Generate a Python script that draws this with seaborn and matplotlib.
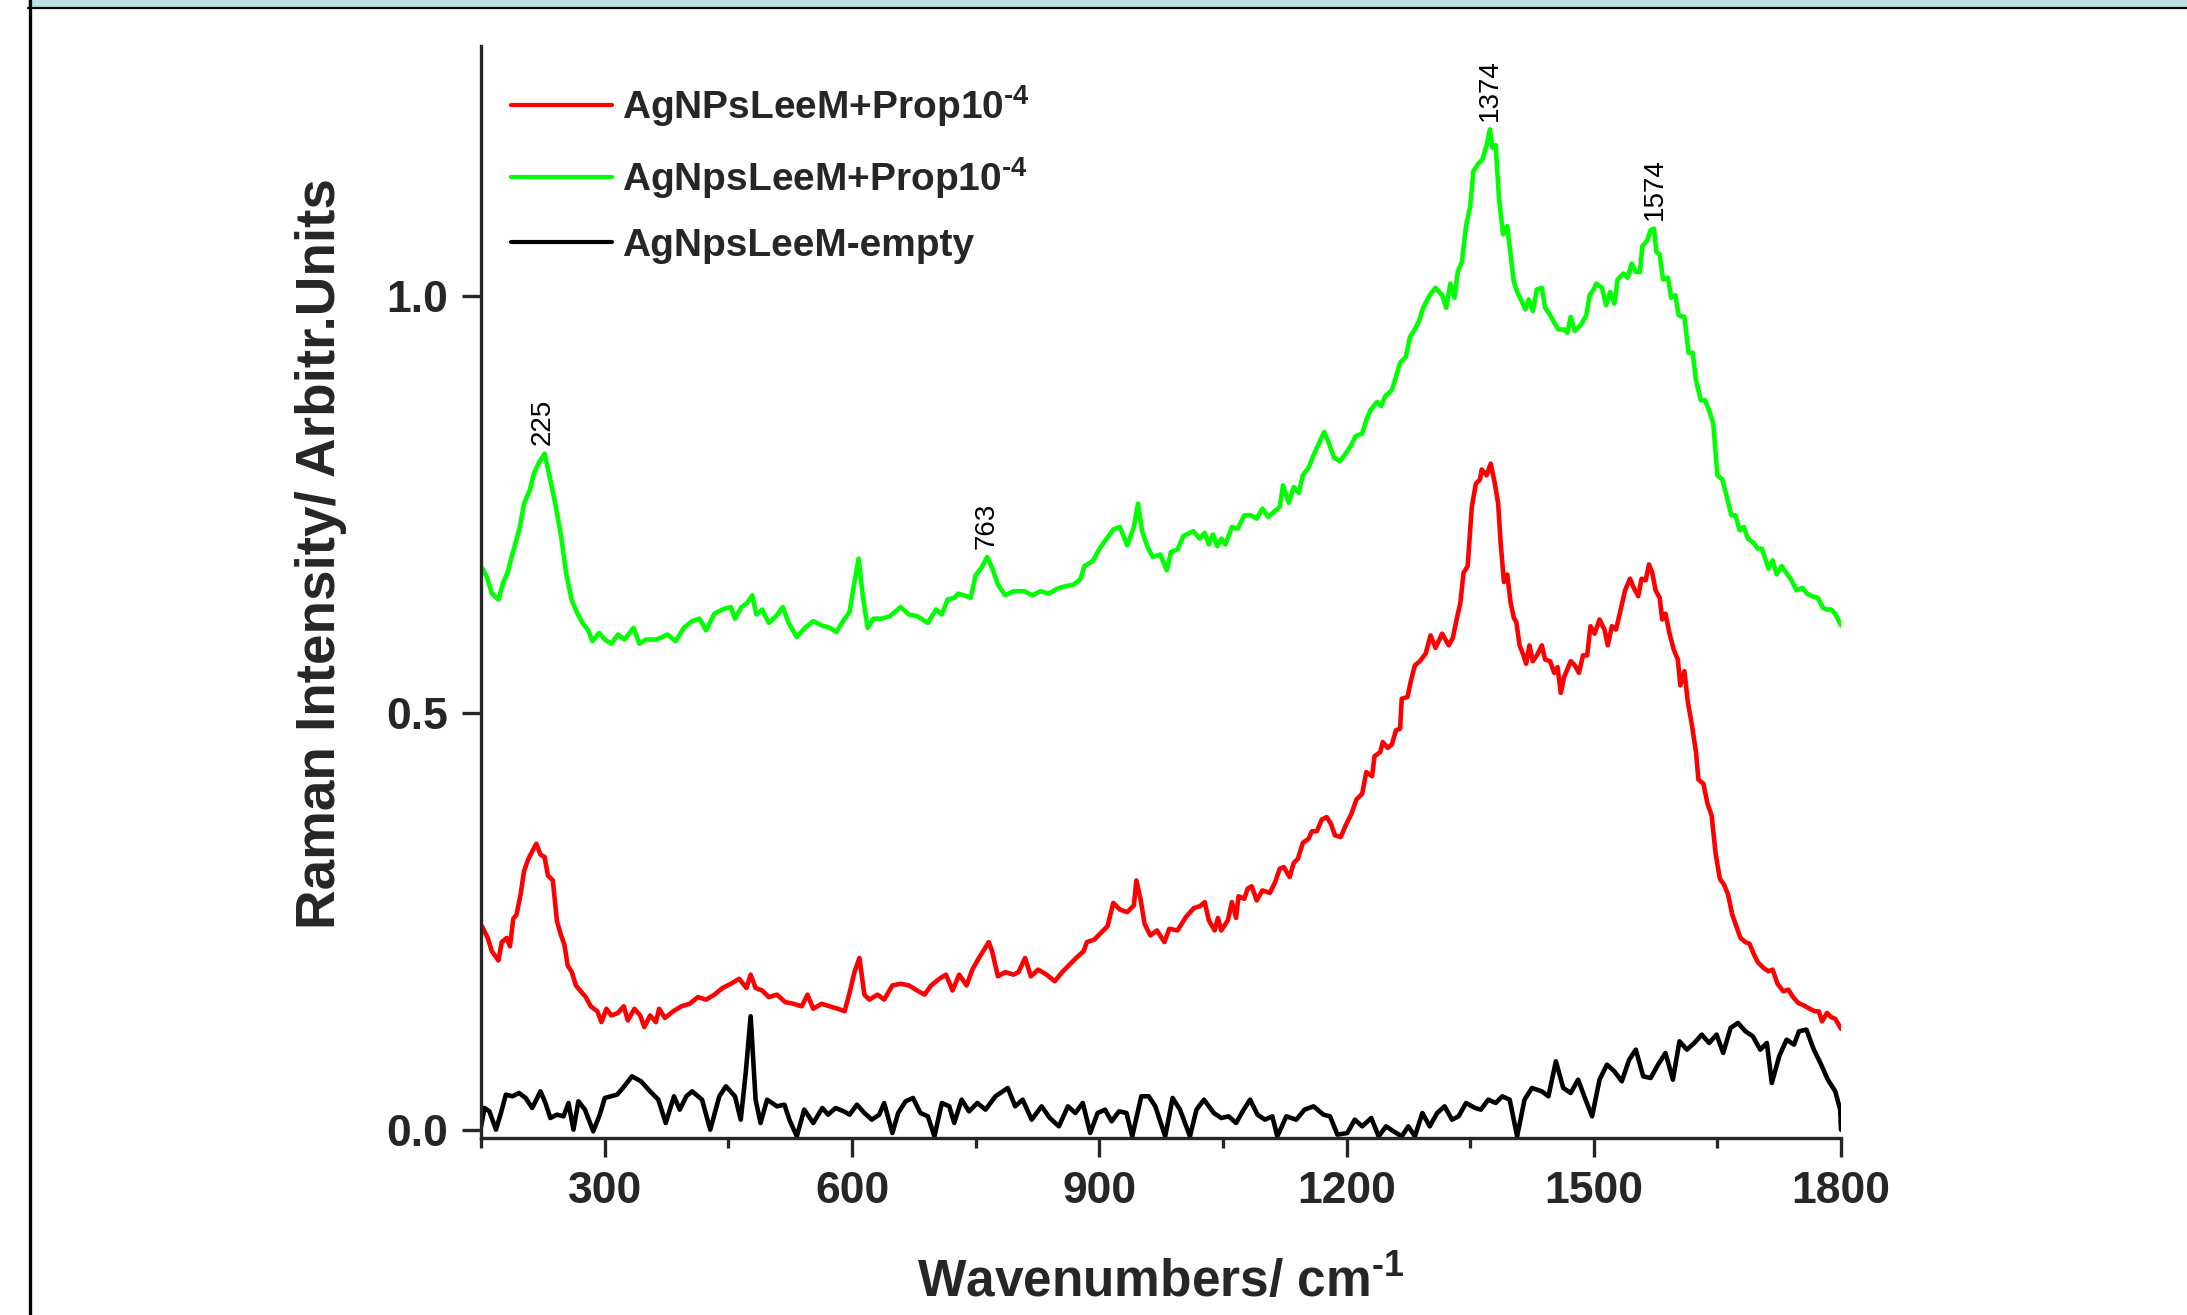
import matplotlib
matplotlib.use("Agg")
import matplotlib.pyplot as plt
from matplotlib.ticker import MultipleLocator
from matplotlib.patches import Rectangle
from matplotlib.lines import Line2D
import seaborn as sns
import pandas as pd

# spectra (wavenumber in cm-1, intensity in arb. units)
green_wn = [151, 157, 163, 171, 177, 182, 187, 191, 197, 202,
            209, 214, 220, 227, 233, 240, 247, 253, 260, 267,
            273, 280, 285, 293, 300, 308, 316, 324, 335, 342,
            350, 363, 376, 386, 396, 406, 415, 423, 433, 443,
            453, 458, 466, 473, 479, 484, 491, 499, 508, 516,
            523, 533, 543, 553, 563, 573, 581, 589, 597, 603,
            608, 613, 619, 626, 636, 646, 659, 669, 679, 692,
            702, 709, 716, 724, 729, 736, 744, 750, 757, 764,
            770, 777, 786, 796, 809, 819, 829, 839, 849, 859,
            869, 877, 882, 892, 901, 909, 917, 925, 934, 942,
            947, 952, 959, 965, 974, 982, 987, 995, 1002, 1014,
            1022, 1028, 1033, 1038, 1043, 1048, 1053, 1061, 1068, 1076,
            1084, 1091, 1098, 1105, 1113, 1119, 1123, 1130, 1136, 1142,
            1147, 1154, 1160, 1165, 1173, 1178, 1185, 1192, 1199, 1205,
            1211, 1219, 1224, 1229, 1237, 1242, 1247, 1255, 1260, 1265,
            1272, 1277, 1283, 1288, 1293, 1301, 1308, 1316, 1321, 1326,
            1331, 1335, 1340, 1345, 1350, 1354, 1360, 1365, 1370, 1374,
            1377, 1381, 1385, 1390, 1395, 1399, 1403, 1408, 1413, 1417,
            1421, 1426, 1431, 1437, 1441, 1446, 1451, 1457, 1464, 1468,
            1472, 1477, 1484, 1491, 1495, 1500, 1503, 1510, 1515, 1520,
            1525, 1529, 1536, 1541, 1546, 1551, 1556, 1559, 1565, 1569,
            1573, 1576, 1580, 1584, 1590, 1594, 1599, 1603, 1610, 1615,
            1620, 1624, 1630, 1635, 1640, 1645, 1650, 1656, 1661, 1667,
            1672, 1677, 1682, 1687, 1694, 1699, 1704, 1708, 1712, 1717,
            1722, 1728, 1735, 1740, 1746, 1753, 1759, 1765, 1772, 1778,
            1783, 1788, 1793, 1800]
green_int = [0.674, 0.663, 0.643, 0.636, 0.657, 0.668, 0.687, 0.701, 0.723, 0.751,
             0.767, 0.787, 0.800, 0.811, 0.784, 0.751, 0.712, 0.668, 0.635, 0.619,
             0.608, 0.599, 0.586, 0.596, 0.588, 0.583, 0.594, 0.588, 0.602, 0.583,
             0.588, 0.588, 0.594, 0.586, 0.602, 0.610, 0.613, 0.599, 0.619, 0.624,
             0.627, 0.613, 0.627, 0.632, 0.641, 0.618, 0.624, 0.608, 0.616, 0.627,
             0.608, 0.591, 0.602, 0.610, 0.605, 0.602, 0.597, 0.610, 0.621, 0.657,
             0.685, 0.641, 0.602, 0.613, 0.613, 0.616, 0.627, 0.618, 0.616, 0.608,
             0.624, 0.618, 0.636, 0.638, 0.643, 0.641, 0.638, 0.665, 0.674, 0.687,
             0.674, 0.654, 0.641, 0.646, 0.646, 0.641, 0.646, 0.643, 0.649, 0.652,
             0.654, 0.660, 0.676, 0.682, 0.698, 0.709, 0.720, 0.723, 0.701, 0.723,
             0.751, 0.718, 0.698, 0.687, 0.690, 0.671, 0.693, 0.696, 0.712, 0.718,
             0.709, 0.716, 0.702, 0.714, 0.700, 0.709, 0.702, 0.723, 0.721, 0.737,
             0.737, 0.733, 0.745, 0.735, 0.742, 0.747, 0.773, 0.752, 0.771, 0.764,
             0.785, 0.794, 0.809, 0.820, 0.837, 0.825, 0.806, 0.802, 0.811, 0.820,
             0.832, 0.835, 0.851, 0.863, 0.873, 0.868, 0.880, 0.887, 0.903, 0.920,
             0.927, 0.951, 0.960, 0.970, 0.986, 1.001, 1.010, 1.001, 0.986, 1.015,
             0.998, 1.029, 1.041, 1.084, 1.107, 1.150, 1.159, 1.164, 1.181, 1.200,
             1.178, 1.181, 1.117, 1.074, 1.084, 1.050, 1.017, 1.003, 0.993, 0.984,
             0.996, 0.982, 1.008, 1.010, 0.986, 0.979, 0.970, 0.960, 0.960, 0.956,
             0.975, 0.958, 0.965, 0.977, 1.001, 1.008, 1.015, 1.010, 0.989, 1.005,
             0.991, 1.020, 1.027, 1.022, 1.039, 1.029, 1.029, 1.060, 1.067, 1.079,
             1.081, 1.053, 1.050, 1.020, 1.022, 0.998, 1.001, 0.977, 0.975, 0.932,
             0.932, 0.899, 0.875, 0.875, 0.863, 0.847, 0.785, 0.780, 0.761, 0.737,
             0.737, 0.719, 0.723, 0.709, 0.704, 0.697, 0.697, 0.685, 0.673, 0.683,
             0.666, 0.676, 0.666, 0.659, 0.647, 0.650, 0.643, 0.640, 0.638, 0.626,
             0.624, 0.624, 0.619, 0.605]

red_wn = [151, 158, 163, 171, 175, 181, 185, 189, 193, 198,
          202, 207, 211, 217, 222, 227, 231, 237, 242, 247,
          251, 255, 260, 265, 270, 277, 283, 291, 296, 302,
          308, 316, 323, 328, 336, 343, 348, 355, 362, 366,
          373, 383, 393, 403, 413, 423, 433, 443, 453, 463,
          472, 477, 483, 491, 499, 509, 519, 529, 539, 546,
          553, 563, 573, 583, 591, 597, 603, 609, 615, 621,
          631, 639, 649, 659, 669, 679, 688, 696, 706, 714,
          722, 730, 739, 746, 754, 766, 770, 777, 786, 796,
          802, 810, 817, 826, 836, 846, 855, 863, 872, 881,
          885, 894, 902, 910, 917, 925, 934, 942, 945, 950,
          955, 962, 970, 979, 985, 995, 1005, 1015,
          1022, 1028, 1033, 1040, 1044, 1048, 1056, 1061, 1066, 1069,
          1076, 1080, 1085, 1091, 1098, 1107, 1113, 1119, 1124, 1131,
          1136, 1141, 1147, 1154, 1158, 1164, 1170, 1176, 1181, 1186,
          1193, 1199, 1206, 1212, 1219, 1224, 1231, 1234, 1241, 1244,
          1250, 1255, 1260, 1265, 1267, 1274, 1278, 1283, 1289, 1296,
          1302, 1308, 1316, 1324, 1329, 1334, 1338, 1342, 1347, 1352,
          1357, 1362, 1364, 1370, 1375, 1380, 1384, 1387, 1391, 1395,
          1399, 1403, 1406, 1410, 1414, 1418, 1422, 1426, 1431, 1437,
          1441, 1447, 1452, 1456, 1460, 1464, 1472, 1477, 1482, 1487,
          1492, 1496, 1501, 1507, 1513, 1517, 1522, 1527, 1532, 1538,
          1544, 1549, 1554, 1558, 1563, 1567, 1571, 1575, 1580, 1583,
          1587, 1592, 1597, 1602, 1605, 1610, 1614, 1619, 1624, 1627,
          1633, 1638, 1643, 1648, 1653, 1658, 1663, 1668, 1673, 1678,
          1684, 1689, 1694, 1699, 1706, 1712, 1717, 1723, 1730, 1736,
          1742, 1748, 1755, 1762, 1768, 1773, 1777, 1783, 1788, 1793,
          1800]
red_int = [0.244, 0.230, 0.214, 0.203, 0.225, 0.230, 0.220, 0.253, 0.258, 0.283,
           0.310, 0.324, 0.332, 0.343, 0.330, 0.327, 0.305, 0.299, 0.250, 0.233,
           0.222, 0.197, 0.189, 0.173, 0.167, 0.159, 0.148, 0.142, 0.129, 0.145,
           0.137, 0.140, 0.148, 0.131, 0.145, 0.137, 0.123, 0.137, 0.129, 0.145,
           0.134, 0.142, 0.148, 0.151, 0.159, 0.156, 0.162, 0.170, 0.175, 0.181,
           0.170, 0.186, 0.170, 0.167, 0.159, 0.162, 0.153, 0.151, 0.148, 0.162,
           0.145, 0.151, 0.148, 0.145, 0.142, 0.164, 0.189, 0.206, 0.162, 0.156,
           0.162, 0.156, 0.173, 0.175, 0.173, 0.167, 0.162, 0.173, 0.181, 0.186,
           0.167, 0.186, 0.173, 0.192, 0.206, 0.225, 0.214, 0.184, 0.189, 0.186,
           0.189, 0.206, 0.184, 0.192, 0.186, 0.178, 0.189, 0.197, 0.206, 0.214,
           0.225, 0.228, 0.236, 0.244, 0.272, 0.264, 0.261, 0.269, 0.299, 0.277,
           0.247, 0.233, 0.239, 0.225, 0.241, 0.239, 0.255, 0.266,
           0.268, 0.273, 0.251, 0.239, 0.254, 0.239, 0.251, 0.273, 0.254, 0.280,
           0.277, 0.289, 0.292, 0.275, 0.287, 0.284, 0.296, 0.313, 0.315, 0.303,
           0.320, 0.325, 0.344, 0.349, 0.358, 0.358, 0.372, 0.375, 0.367, 0.353,
           0.351, 0.365, 0.379, 0.396, 0.403, 0.429, 0.424, 0.448, 0.453, 0.465,
           0.458, 0.462, 0.479, 0.481, 0.517, 0.519, 0.538, 0.557, 0.562, 0.571,
           0.593, 0.578, 0.595, 0.581, 0.590, 0.614, 0.631, 0.668, 0.676, 0.747,
           0.775, 0.780, 0.792, 0.785, 0.799, 0.775, 0.751, 0.704, 0.657, 0.666,
           0.633, 0.614, 0.609, 0.581, 0.571, 0.559, 0.581, 0.562, 0.569, 0.581,
           0.564, 0.562, 0.548, 0.555, 0.524, 0.543, 0.562, 0.557, 0.548, 0.569,
           0.569, 0.604, 0.595, 0.612, 0.600, 0.581, 0.604, 0.600, 0.621, 0.647,
           0.661, 0.649, 0.640, 0.661, 0.659, 0.678, 0.668, 0.647, 0.638, 0.612,
           0.619, 0.595, 0.576, 0.564, 0.533, 0.550, 0.514, 0.486, 0.453, 0.420,
           0.415, 0.391, 0.377, 0.330, 0.301, 0.294, 0.282, 0.258, 0.244, 0.230,
           0.225, 0.223, 0.211, 0.201, 0.194, 0.190, 0.192, 0.175, 0.166, 0.168,
           0.159, 0.152, 0.149, 0.145, 0.142, 0.142, 0.130, 0.140, 0.135, 0.133,
           0.121]

black_wn = [150, 154, 160, 168, 174, 180, 188, 196, 204, 212,
            222, 228, 234, 242, 250, 256, 262, 268, 276, 286,
            294, 300, 315, 322, 333, 344, 355, 365, 374, 384,
            391, 399, 406, 418, 428, 439, 447, 458, 465, 471,
            477, 483, 489, 497, 509, 518, 524, 533, 542, 553,
            564, 571, 580, 590, 597, 606, 615, 624, 633, 639,
            649, 656, 665, 674, 683, 692, 700, 709, 718, 724,
            733, 742, 752, 762, 774, 783, 789, 798, 807, 818,
            830, 840, 851, 862, 871, 880, 889, 898, 907, 915,
            924, 933, 940, 951, 960, 968, 980, 989, 998, 1010,
            1018, 1027, 1039, 1048, 1057, 1066, 1074, 1083, 1092, 1101,
            1110, 1116, 1127, 1139, 1149, 1160, 1172, 1180, 1189, 1201,
            1210, 1219, 1230, 1239, 1248, 1257, 1267, 1275, 1283, 1292,
            1301, 1310, 1319, 1328, 1336, 1345, 1356, 1363, 1372, 1381,
            1389, 1398, 1407, 1416, 1425, 1437, 1445, 1454, 1463, 1472,
            1481, 1490, 1498, 1507, 1516, 1525, 1534, 1543, 1551, 1560,
            1569, 1578, 1587, 1596, 1604, 1613, 1622, 1631, 1640, 1649,
            1657, 1666, 1675, 1684, 1693, 1702, 1710, 1716, 1725, 1734,
            1743, 1749, 1758, 1767, 1775, 1784, 1793, 1799, 1800]
black_int = [0.004, 0.026, 0.022, 0.000, 0.020, 0.042, 0.040, 0.044, 0.038, 0.026,
             0.046, 0.032, 0.014, 0.018, 0.016, 0.032, 0.000, 0.034, 0.024, -0.002,
             0.018, 0.038, 0.042, 0.050, 0.064, 0.058, 0.046, 0.036, 0.008, 0.040,
             0.024, 0.040, 0.046, 0.036, 0.000, 0.040, 0.052, 0.040, 0.012, 0.068,
             0.136, 0.036, 0.008, 0.036, 0.028, 0.030, 0.012, -0.008, 0.024, 0.008,
             0.026, 0.018, 0.026, 0.022, 0.018, 0.030, 0.020, 0.012, 0.018, 0.032,
             -0.004, 0.020, 0.034, 0.038, 0.020, 0.016, -0.008, 0.032, 0.028, 0.008,
             0.036, 0.022, 0.032, 0.024, 0.040, 0.046, 0.050, 0.028, 0.036, 0.012,
             0.028, 0.014, 0.004, 0.028, 0.020, 0.032, -0.004, 0.020, 0.024, 0.010,
             0.022, 0.020, -0.008, 0.040, 0.040, 0.028, -0.008, 0.038, 0.024, -0.008,
             0.024, 0.036, 0.020, 0.014, 0.016, 0.008, 0.022, 0.036, 0.018, 0.012,
             0.016, -0.008, 0.016, 0.012, 0.024, 0.028, 0.018, 0.016, -0.006, -0.004,
             0.012, 0.004, 0.014, -0.008, 0.004, -0.002, -0.008, 0.004, -0.008, 0.020,
             0.004, 0.020, 0.028, 0.012, 0.016, 0.032, 0.026, 0.024, 0.036, 0.032,
             0.040, 0.036, -0.008, 0.036, 0.050, 0.046, 0.040, 0.082, 0.050, 0.044,
             0.060, 0.036, 0.016, 0.060, 0.078, 0.070, 0.058, 0.084, 0.096, 0.064,
             0.062, 0.078, 0.092, 0.060, 0.106, 0.096, 0.104, 0.114, 0.104, 0.114,
             0.092, 0.122, 0.128, 0.118, 0.112, 0.096, 0.104, 0.056, 0.088, 0.108,
             0.102, 0.118, 0.120, 0.096, 0.080, 0.060, 0.046, 0.024, 0.000]

series_names = ["AgNPsLeeM+Prop10$^{\u2010 4}$", "AgNpsLeeM+Prop10$^{\u2010 4}$",
                "AgNpsLeeM-empty"]
series_colors = ["#ff0000", "#00ff00", "#000000"]

peak_pos = [225, 763, 1374, 1574]
peak_top = [0.811, 0.687, 1.200, 1.081]
peak_text = ["225", "763", "1374", "1574"]

sns.set_style("ticks")
plt.rcParams["font.family"] = ["Liberation Sans", "DejaVu Sans"]
plt.rcParams["mathtext.fontset"] = "custom"
plt.rcParams["mathtext.rm"] = "Liberation Sans:bold"
plt.rcParams["mathtext.it"] = "Liberation Sans:bold"
plt.rcParams["mathtext.bf"] = "Liberation Sans:bold"
plt.rcParams["mathtext.default"] = "regular"

fig = plt.figure(figsize=(21.87, 13.15), dpi=100)
ax = fig.add_axes([0.2200, 0.1346, 0.6218, 0.8304])

frames = [
    pd.DataFrame({"wn": red_wn, "I": red_int}),
    pd.DataFrame({"wn": green_wn, "I": green_int}),
    pd.DataFrame({"wn": black_wn, "I": black_int}),
]
for df, name, col in zip(frames, series_names, series_colors):
    sns.lineplot(data=df, x="wn", y="I", ax=ax, color=col, lw=3.3,
                 sort=False, estimator=None, label=name)

for xp, yp, t in zip(peak_pos, peak_top, peak_text):
    ax.text(xp, yp + 0.01, t, rotation=90, ha="center", va="bottom",
            fontsize=20, color="black")

ax.set_xlim(150, 1800)
ax.set_ylim(-0.01, 1.3)
ax.xaxis.set_major_locator(MultipleLocator(300))
ax.xaxis.set_minor_locator(MultipleLocator(150))
ax.yaxis.set_major_locator(MultipleLocator(0.5))
ax.tick_params(axis="both", which="major", direction="out", length=14, width=2.4,
               labelsize=32, pad=10)
ax.tick_params(axis="x", which="minor", direction="out", length=7, width=2.4)
for lab in ax.get_xticklabels() + ax.get_yticklabels():
    lab.set_fontweight("bold")
sns.despine(ax=ax)
for s in ["left", "bottom"]:
    ax.spines[s].set_linewidth(2.4)

ax.set_xlabel("Wavenumbers/ cm$^{\u2010 1}$", fontsize=37, fontweight="bold", labelpad=32)
ax.set_ylabel("Raman Intensity/ Arbitr.Units", fontsize=39.5, fontweight="bold")
ax.yaxis.set_label_coords(-0.099, 0.535)

leg = ax.legend(loc="upper left", bbox_to_anchor=(0.022, 0.966), frameon=False,
                prop={"weight": "bold", "size": 28}, handlelength=2.6,
                handletextpad=0.25, labelspacing=0.68, borderpad=0, borderaxespad=0)
for h in leg.get_lines():
    h.set_linewidth(3.0)

# page decoration: cyan strip at the top and a rule on the left
fig.patches.append(Rectangle((0.0128, 0.9947), 0.99, 0.0053, transform=fig.transFigure,
                             facecolor="#b9e0e4", edgecolor="none"))
fig.lines.append(Line2D([0.0128, 1.0], [0.9937, 0.9937], transform=fig.transFigure,
                        color="black", lw=1.6))
fig.lines.append(Line2D([0.0135, 0.0135], [0.0, 1.0], transform=fig.transFigure,
                        color="black", lw=2.4))

fig.savefig("out.png", dpi=100)
